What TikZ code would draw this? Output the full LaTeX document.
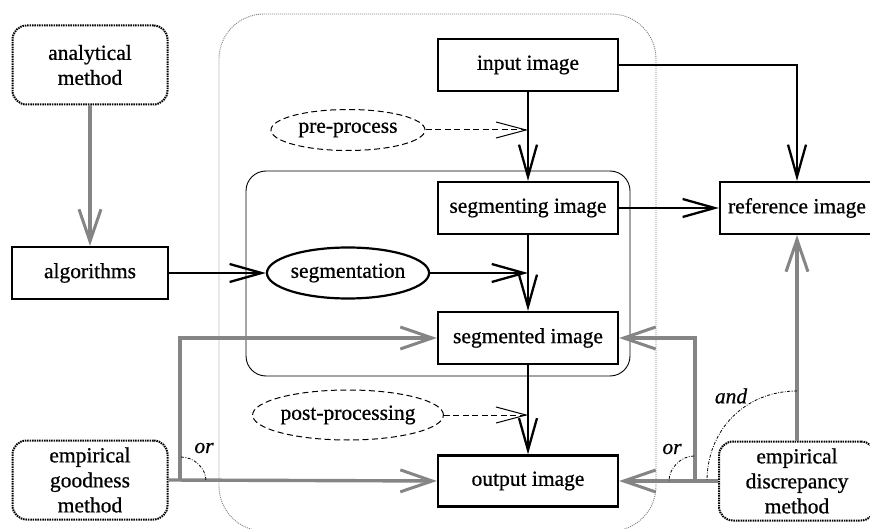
\documentclass[tikz,border=0pt]{standalone}
\usepackage{fontspec}
\setmainfont{Liberation Serif}[FakeBold=0.7]
\usetikzlibrary{arrows.meta,shapes.geometric,calc}
\begin{document}
\begin{tikzpicture}[x=1pt,y=-1pt,
  txt/.style={font=\fontsize{21.5}{25}\selectfont},
  box/.style={txt,draw,line width=2.2pt,minimum width=180pt,minimum height=52pt,inner sep=0pt},
  mbox/.style={txt,draw,line width=2pt,dash pattern=on 1.5pt off 0.9pt,rounded corners=14pt,minimum width=155pt,minimum height=79pt,align=center,inner sep=0pt},
  dell/.style={txt,ellipse,draw,line width=1pt,dash pattern=on 6pt off 3.5pt,minimum width=154pt,minimum height=41pt,inner sep=0pt},
  thk/.style={line width=2.3pt,-{Straight Barb[length=32pt,width=18pt,line width=2.3pt]}},
  dsh/.style={line width=1pt,dash pattern=on 6pt off 3.5pt,-{Straight Barb[length=30pt,width=16pt,line width=1pt]}},
  gry/.style={draw=black!48,line width=3.4pt,-{Straight Barb[length=32pt,width=22pt,line width=3pt]}},
  conj/.style={line width=0.8pt,dash pattern=on 3pt off 1.5pt on 0.8pt off 1.5pt},
  lbl/.style={font=\fontsize{21.5}{25}\selectfont\itshape,inner sep=0pt}
]
\useasboundingbox (0,0) rectangle (870,529);
% frames
\node[draw=black!50,line width=0.9pt,dash pattern=on 1pt off 1pt,rounded corners=45pt,minimum width=437pt,minimum height=517pt,inner sep=0pt] (outer) at (437.5,272.5) {};
\node[draw,line width=0.9pt,rounded corners=20pt,minimum width=384pt,minimum height=205pt,inner sep=0pt] (inner) at (438,273.5) {};
% nodes
\node[mbox] (am) at (90,65) {analytical\\method};
\node[box,minimum width=156pt] (alg) at (90,273) {algorithms};
\node[box] (in) at (528,65) {input image};
\node[dell] (pre) at (348,130) {pre-process};
\node[box] (sgi) at (528,208) {segmenting image};
\node[box,minimum width=154pt] (ref) at (797,208) {reference image};
\node[txt,ellipse,draw,line width=2.2pt,minimum width=154pt,minimum height=51pt,inner sep=0pt] (seg) at (348,273) {segmentation};
\node[box] (sgd) at (528,338) {segmented image};
\node[dell,minimum height=50pt] (post) at (348,415) {post-processing};
\node[box,minimum height=51pt] (out) at (528,481) {output image};
\node[mbox] (egm) at (90,480) {empirical\\goodness\\method};
\node[mbox,minimum width=156pt] (edm) at (797,481) {empirical\\discrepancy\\method};
% junction coordinates
\coordinate (prej) at (528,130);
\coordinate (segj) at (528,273);
\coordinate (postj) at (528,415);
\coordinate (gb) at (180,481);
\coordinate (db) at (695,481);
% black connectors
\draw[thk] (in) -- (sgi);
\draw[thk] (in.east) -| (ref.north);
\draw[thk] (sgi) -- (ref);
\draw[thk] (sgi) -- (sgd);
\draw[thk] (alg) -- (seg);
\draw[thk] (seg) -- (segj);
\draw[thk] (sgd) -- (out);
\draw[dsh] (pre) -- (prej);
\draw[dsh] (post) -- (postj);
% gray connectors
\draw[gry] (am) -- (alg);
\draw[gry] (egm.east) -- (out.west);
\draw[gry] (gb) |- (sgd.west);
\draw[gry] (edm.west) -- (out.east);
\draw[gry] (db) |- (sgd.east);
\draw[gry] (edm) -- (ref);
% conjunction arcs and labels
\coordinate (o1a) at (181,457);
\coordinate (o1b) at (206,481);
\draw[conj] (o1a) .. controls (194,457) and (206,468) .. (o1b);
\node[lbl] (or1) at (204,448) {or};
\coordinate (o2a) at (694,456);
\coordinate (o2b) at (669,481);
\draw[conj] (o2a) .. controls (681,456) and (669,468) .. (o2b);
\node[lbl] (or2) at (672,449) {or};
\coordinate (a1) at (797,391);
\coordinate (a2) at (707,481);
\draw[conj] (a1) .. controls (745,391) and (707,430) .. (a2);
\node[lbl] (and) at (731,396) {and};
\end{tikzpicture}
\end{document}
